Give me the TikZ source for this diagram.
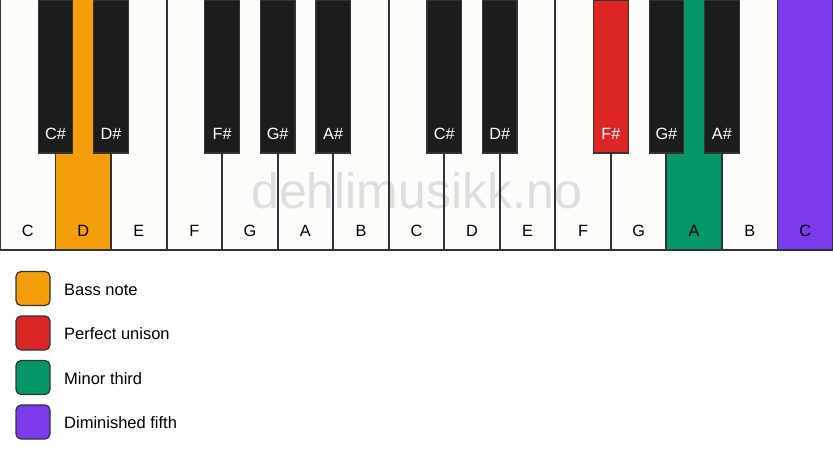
\documentclass[tikz,border=0pt]{standalone}
\usepackage{fontspec}
\setmainfont{Liberation Sans}
\definecolor{keywhite}{HTML}{FDFCF8}
\definecolor{keyblack}{HTML}{1C1C1C}
\definecolor{edge}{HTML}{333333}
\definecolor{bassC}{HTML}{F59E0B}
\definecolor{unisonC}{HTML}{DC2626}
\definecolor{thirdC}{HTML}{059669}
\definecolor{fifthC}{HTML}{7C3AED}
\definecolor{wmark}{HTML}{DEDEDE}
\begin{document}
\begin{tikzpicture}[x=1pt,y=-1pt,
  wkey/.style={rectangle,minimum width=55.533pt,minimum height=250pt,inner sep=0pt,fill=keywhite},
  bkey/.style={rectangle,minimum width=34.5pt,minimum height=153pt,inner sep=0pt,fill=keyblack,draw=edge,line width=1.2pt},
  wlab/.style={anchor=base,font=\fontsize{16.3}{19}\selectfont,text=black,inner sep=0pt},
  blab/.style={anchor=base,font=\fontsize{16.3}{19}\selectfont,text=white,inner sep=0pt},
  legbox/.style={rectangle,rounded corners=5pt,minimum width=34pt,minimum height=34pt,inner sep=0pt,draw=edge,line width=1.2pt},
  legtext/.style={anchor=base west,font=\fontsize{16.5}{19}\selectfont,inner sep=0pt}]
\useasboundingbox (0,0) rectangle (833,461);
% white keys
\foreach \i/\c in {0/keywhite,1/bassC,2/keywhite,3/keywhite,4/keywhite,5/keywhite,6/keywhite,7/keywhite,8/keywhite,9/keywhite,10/keywhite,11/keywhite,12/thirdC,13/keywhite,14/fifthC}
  \node[wkey,fill=\c] (w\i) at ({(\i+0.5)*55.533},125) {};
% watermark
\node[font=\fontsize{50}{58}\selectfont,text=wmark,anchor=base,inner sep=0pt] (wm) at (416.7,208) {dehlimusikk.no};
% white key borders
\foreach \i in {0,...,14}
  \draw[edge,line width=1.5pt] (w\i.north west) -- (w\i.south west) -- (w\i.south east) -- (w\i.north east);
% white labels
\foreach \i/\t in {0/C,1/D,2/E,3/F,4/G,5/A,6/B,7/C,8/D,9/E,10/F,11/G,12/A,13/B,14/C}
  \node[wlab] (wl\i) at ({(\i+0.5)*55.533},236) {\t};
% black keys
\foreach \k/\t/\c in {1/C\#/keyblack,2/D\#/keyblack,4/F\#/keyblack,5/G\#/keyblack,6/A\#/keyblack,8/C\#/keyblack,9/D\#/keyblack,11/F\#/unisonC,12/G\#/keyblack,13/A\#/keyblack}{
  \node[bkey,fill=\c] (b\k) at ({\k*55.533},76.5) {};
  \node[blab] (bl\k) at ({\k*55.533},139) {\t};
}
% legend
\foreach \j/\c/\t in {0/bassC/Bass note,1/unisonC/Perfect unison,2/thirdC/Minor third,3/fifthC/Diminished fifth}{
  \node[legbox,fill=\c] (lg\j) at (33,{288.5+\j*44.5}) {};
  \node[legtext] (lt\j) at (64,{295.3+\j*44.5}) {\t};
}
\end{tikzpicture}
\end{document}
